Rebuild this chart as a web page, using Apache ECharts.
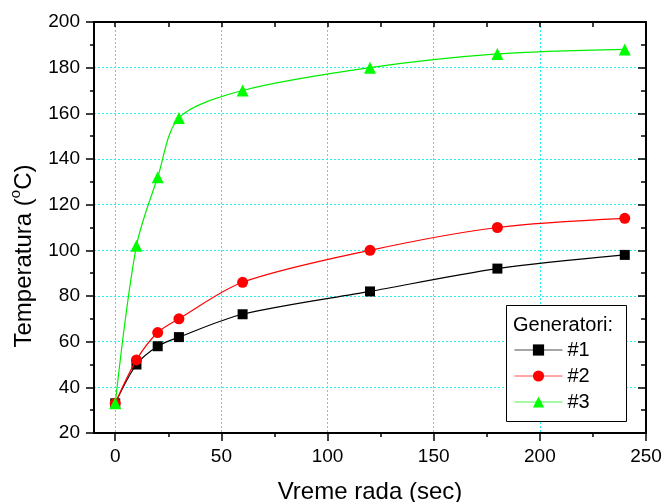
<!DOCTYPE html>
<html>
<head>
<meta charset="utf-8">
<script src="https://cdn.jsdelivr.net/npm/echarts@6/dist/echarts.min.js"></script>
<style>
  html, body { margin: 0; padding: 0; background: #fff; }
  #chart { width: 662px; height: 502px; }
</style>
</head>
<body>
<div id="chart"></div>
<script>
// Heating curves of three generators: temperature vs. run time
const times = [0, 10, 20, 30, 60, 120, 180, 240];
const gen1 = [33, 50, 58, 62, 72, 82, 92, 98];
const gen2 = [33, 52, 64, 70, 86, 100, 110, 114];
const gen3 = [33, 102, 132, 158, 170, 180, 186, 188];
const seriesNames = ['#1', '#2', '#3'];

const xMajorTicks = [0, 50, 100, 150, 200, 250];
const xMinorTicks = [25, 75, 125, 175, 225];
const xAllTicks = [0, 25, 50, 75, 100, 125, 150, 175, 200, 225, 250];

const FONT = '"Liberation Sans", Arial, sans-serif';

const pairs = (ys) => times.map((t, i) => [t, ys[i]]);

const chart = echarts.init(document.getElementById('chart'), null, { renderer: 'canvas' });

const gridLine = { show: true, lineStyle: { color: '#22f0f0', type: [2, 2], width: 1 } };
const axisLine = { show: true, onZero: false, lineStyle: { color: '#000', width: 2 } };

chart.setOption({
  animation: false,
  backgroundColor: '#fff',
  grid: { left: 94, top: 22, right: 16, bottom: 69, containLabel: false, outerBoundsMode: 'none' },
  xAxis: [
    {
      type: 'value', position: 'bottom', min: -10, max: 250,
      axisLine: axisLine,
      axisTick: { show: true, inside: false, length: 8, customValues: xMajorTicks, lineStyle: { color: '#000', width: 1.5 } },
      axisLabel: { show: true, customValues: xMajorTicks, margin: 14, color: '#000', fontFamily: FONT, fontSize: 19 },
      splitLine: gridLine,
      name: 'Vreme rada (sec)', nameLocation: 'middle', nameGap: 47,
      nameTextStyle: { color: '#000', fontFamily: FONT, fontSize: 24 }
    },
    {
      // minor ticks along the bottom edge
      type: 'value', position: 'bottom', min: -10, max: 250, gridIndex: 0,
      axisLine: { show: false },
      axisTick: { show: true, inside: false, length: 4, customValues: xMinorTicks, lineStyle: { color: '#000', width: 1.5 } },
      axisLabel: { show: false },
      splitLine: { show: false }
    },
    {
      // top frame with inward ticks
      type: 'value', position: 'top', min: -10, max: 250,
      axisLine: axisLine,
      axisTick: { show: true, inside: true, length: 5, customValues: xAllTicks, lineStyle: { color: '#000', width: 1.5 } },
      axisLabel: { show: false },
      splitLine: { show: false }
    }
  ],
  yAxis: [
    {
      type: 'value', position: 'left', min: 20, max: 200, interval: 20,
      axisLine: axisLine,
      axisTick: { show: true, inside: false, length: 8, lineStyle: { color: '#000', width: 1.5 } },
      minorTick: { show: true, splitNumber: 2, length: 4, lineStyle: { color: '#000', width: 1.5 } },
      axisLabel: { show: true, margin: 14, color: '#000', fontFamily: FONT, fontSize: 19 },
      splitLine: gridLine
    },
    {
      // right frame with inward ticks
      type: 'value', position: 'right', min: 20, max: 200, interval: 20,
      axisLine: axisLine,
      axisTick: { show: true, inside: true, length: 8, lineStyle: { color: '#000', width: 1.5 } },
      minorTick: { show: true, splitNumber: 2, length: 5, lineStyle: { color: '#000', width: 1.5 } },
      axisLabel: { show: false },
      splitLine: { show: false }
    }
  ],
  legend: {
    show: true,
    z: 30, zlevel: 0,
    orient: 'vertical',
    left: 514, top: 340,
    padding: 0,
    itemWidth: 48, itemHeight: 14, itemGap: 6,
    data: seriesNames,
    lineStyle: { width: 1, opacity: 0.7 },
    textStyle: { color: '#000', fontFamily: FONT, fontSize: 20, lineHeight: 14 }
  },
  graphic: [
    {
      type: 'rect', z: 8,
      shape: { x: 506.5, y: 305.5, width: 120, height: 116 },
      style: { fill: '#fff', stroke: '#000', lineWidth: 1 }
    },
    {
      type: 'text', z: 31, left: 513, top: 315,
      style: { text: 'Generatori:', fill: '#000', font: '20px ' + FONT }
    },
    {
      type: 'text', z: 31,
      x: 22, y: 256, rotation: Math.PI / 2,
      style: {
        text: '{a|Temperatura (}{s|o}{a|C)}',
        align: 'center', verticalAlign: 'middle',
        rich: {
          a: { fontFamily: FONT, fontSize: 24, fill: '#000', lineHeight: 28, verticalAlign: 'bottom' },
          s: { fontFamily: FONT, fontSize: 15, fill: '#000', lineHeight: 28, verticalAlign: 'top' }
        }
      }
    }
  ],
  series: [
    {
      name: seriesNames[0], type: 'line', data: pairs(gen1), smooth: 0.3,
      symbol: 'rect', symbolSize: 10,
      lineStyle: { color: '#000', width: 1.2 }, itemStyle: { color: '#000' }, z: 3
    },
    {
      name: seriesNames[1], type: 'line', data: pairs(gen2), smooth: 0.3,
      symbol: 'circle', symbolSize: 11,
      lineStyle: { color: '#ff0000', width: 1.2 }, itemStyle: { color: '#ff0000' }, z: 4
    },
    {
      name: seriesNames[2], type: 'line', data: pairs(gen3), smooth: 0.3,
      symbol: 'triangle', symbolSize: 12,
      lineStyle: { color: '#00ee00', width: 1.2 }, itemStyle: { color: '#00ff00' }, z: 5
    }
  ]
});
</script>
</body>
</html>
